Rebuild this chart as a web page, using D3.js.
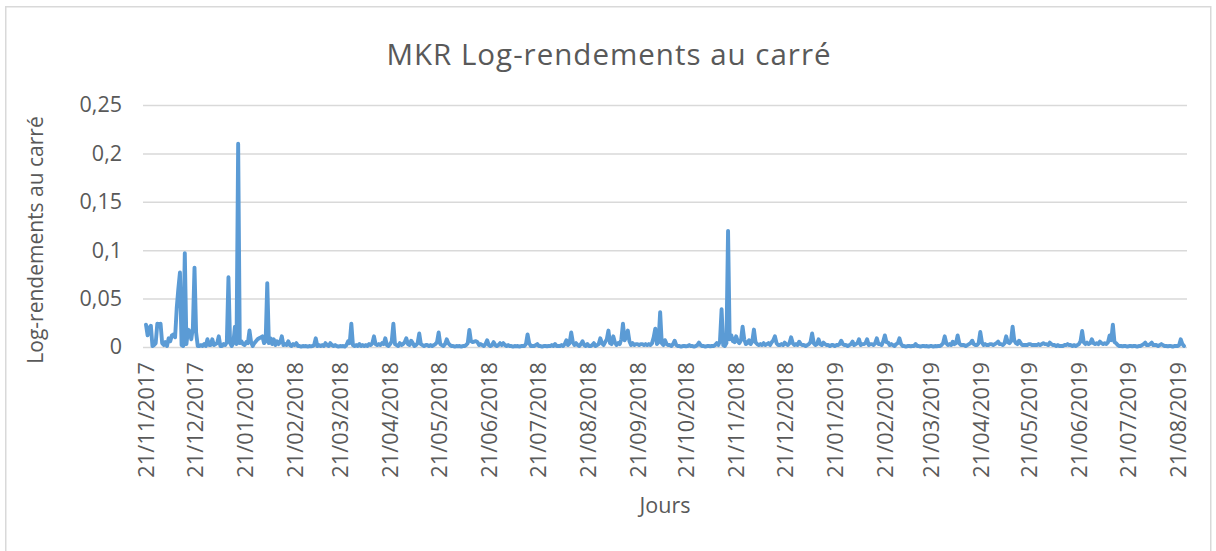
<!DOCTYPE html>
<html>
<head>
<meta charset="utf-8">
<script src="https://cdn.jsdelivr.net/npm/d3@7/dist/d3.min.js"></script>
<style>
  html, body { margin: 0; padding: 0; background: #fff; }
  svg { display: block; }
  text { font-family: "Open Sans", sans-serif; fill: #595959; }
</style>
</head>
<body>
<svg id="chart" width="1216" height="551"></svg>
<script>
// ---- Data -------------------------------------------------------------
const title = "MKR Log-rendements au carré";
const xTitle = "Jours";
const yTitle = "Log-rendements au carré";
const startDate = "21/11/2017";   // first observation, one value per day
const endDate = "25/08/2019";
const xTickLabels = ["21/11/2017","21/12/2017","21/01/2018","21/02/2018","21/03/2018","21/04/2018",
  "21/05/2018","21/06/2018","21/07/2018","21/08/2018","21/09/2018","21/10/2018","21/11/2018",
  "21/12/2018","21/01/2019","21/02/2019","21/03/2019","21/04/2019","21/05/2019","21/06/2019",
  "21/07/2019","21/08/2019"];
const yTickValues = [0, 0.05, 0.1, 0.15, 0.2, 0.25];
const yTickLabels = ["0", "0,05", "0,1", "0,15", "0,2", "0,25"];
// squared log-returns, daily, from 21/11/2017
const values = [
  0.023,0.012,0.020,0.022,0.001,0.002,0.004,0.024,0.023,0.024,
  0.004,0.002,0.005,0.001,0.009,0.006,0.012,0.013,0.010,0.040,
  0.060,0.077,0.002,0.001,0.097,0.003,0.018,0.016,0.008,0.020,
  0.082,0.015,0.001,0.001,0.002,0.001,0.003,0.001,0.008,0.002,
  0.002,0.008,0.002,0.003,0.004,0.011,0.001,0.001,0.003,0.002,
  0.005,0.072,0.004,0.001,0.004,0.021,0.003,0.210,0.004,0.006,
  0.003,0.002,0.005,0.004,0.017,0.005,0.001,0.004,0.006,0.008,
  0.009,0.010,0.011,0.004,0.006,0.066,0.004,0.009,0.003,0.008,
  0.002,0.006,0.003,0.005,0.011,0.002,0.003,0.002,0.006,0.002,
  0.001,0.003,0.002,0.004,0.001,0.001,0.0005,0.001,0.0008,0.001,
  0.0005,0.001,0.0007,0.001,0.002,0.009,0.001,0.002,0.001,0.002,
  0.001,0.004,0.002,0.001,0.004,0.002,0.001,0.002,0.001,0.0005,
  0.001,0.0008,0.001,0.0005,0.002,0.006,0.004,0.024,0.002,0.001,
  0.002,0.001,0.003,0.001,0.002,0.001,0.002,0.001,0.003,0.002,
  0.004,0.011,0.003,0.002,0.003,0.002,0.004,0.003,0.009,0.002,
  0.001,0.003,0.006,0.024,0.003,0.002,0.001,0.004,0.002,0.003,
  0.005,0.009,0.003,0.002,0.0065,0.004,0.001,0.002,0.004,0.014,
  0.003,0.002,0.001,0.002,0.002,0.001,0.002,0.001,0.002,0.003,
  0.005,0.015,0.003,0.002,0.001,0.003,0.008,0.004,0.002,0.001,
  0.001,0.0005,0.001,0.0008,0.001,0.0005,0.001,0.001,0.002,0.004,
  0.0175,0.006,0.005,0.0055,0.006,0.005,0.002,0.003,0.002,0.001,
  0.003,0.007,0.002,0.001,0.002,0.005,0.002,0.001,0.002,0.004,
  0.002,0.004,0.002,0.001,0.002,0.001,0.001,0.0005,0.001,0.0008,
  0.001,0.0005,0.001,0.001,0.001,0.003,0.013,0.004,0.001,0.001,
  0.001,0.002,0.003,0.001,0.001,0.0005,0.001,0.001,0.0008,0.001,
  0.001,0.002,0.001,0.003,0.001,0.001,0.001,0.002,0.001,0.003,
  0.007,0.002,0.004,0.015,0.005,0.002,0.004,0.002,0.001,0.003,
  0.006,0.002,0.001,0.003,0.001,0.001,0.002,0.004,0.001,0.002,
  0.003,0.009,0.004,0.002,0.005,0.008,0.017,0.004,0.003,0.011,
  0.005,0.002,0.004,0.003,0.008,0.024,0.007,0.010,0.017,0.006,
  0.002,0.004,0.002,0.003,0.003,0.002,0.003,0.003,0.002,0.003,
  0.002,0.003,0.002,0.004,0.010,0.019,0.003,0.005,0.036,0.004,
  0.002,0.007,0.003,0.002,0.002,0.001,0.003,0.0065,0.002,0.001,
  0.001,0.0005,0.001,0.001,0.0008,0.001,0.002,0.001,0.001,0.0005,
  0.001,0.002,0.0045,0.002,0.001,0.001,0.0005,0.001,0.001,0.0008,
  0.001,0.001,0.002,0.004,0.002,0.006,0.039,0.002,0.001,0.004,
  0.120,0.008,0.012,0.006,0.005,0.011,0.006,0.004,0.007,0.021,
  0.008,0.003,0.004,0.007,0.003,0.006,0.018,0.005,0.003,0.002,
  0.003,0.002,0.004,0.002,0.003,0.004,0.002,0.005,0.007,0.011,
  0.004,0.002,0.002,0.003,0.002,0.0045,0.003,0.002,0.004,0.010,
  0.004,0.002,0.003,0.002,0.0055,0.003,0.002,0.002,0.001,0.002,
  0.003,0.005,0.014,0.004,0.002,0.003,0.008,0.003,0.002,0.0045,
  0.003,0.002,0.002,0.001,0.002,0.002,0.001,0.002,0.002,0.003,
  0.0065,0.003,0.002,0.002,0.001,0.002,0.003,0.0055,0.002,0.003,
  0.004,0.008,0.002,0.003,0.003,0.004,0.008,0.002,0.003,0.003,
  0.002,0.004,0.009,0.003,0.003,0.002,0.006,0.012,0.005,0.0045,
  0.002,0.003,0.002,0.001,0.003,0.004,0.009,0.003,0.001,0.001,
  0.0005,0.001,0.001,0.0008,0.001,0.001,0.003,0.001,0.001,0.0005,
  0.001,0.001,0.0008,0.001,0.0005,0.001,0.001,0.0005,0.001,0.0008,
  0.001,0.001,0.002,0.004,0.011,0.004,0.002,0.003,0.002,0.0055,
  0.003,0.004,0.012,0.004,0.002,0.002,0.002,0.001,0.002,0.003,
  0.004,0.0065,0.003,0.002,0.002,0.004,0.0155,0.005,0.002,0.003,
  0.002,0.002,0.003,0.003,0.002,0.003,0.004,0.0055,0.003,0.003,
  0.002,0.004,0.011,0.005,0.004,0.006,0.021,0.007,0.004,0.003,
  0.0065,0.004,0.002,0.002,0.002,0.002,0.003,0.003,0.002,0.002,
  0.002,0.002,0.003,0.002,0.003,0.004,0.003,0.003,0.002,0.0045,
  0.003,0.002,0.002,0.001,0.002,0.001,0.001,0.001,0.002,0.002,
  0.003,0.002,0.002,0.001,0.002,0.001,0.002,0.003,0.006,0.0165,
  0.005,0.003,0.0045,0.003,0.004,0.008,0.004,0.003,0.004,0.003,
  0.0055,0.004,0.003,0.004,0.003,0.005,0.012,0.007,0.023,0.005,
  0.004,0.002,0.001,0.001,0.0008,0.001,0.001,0.0005,0.001,0.001,
  0.0008,0.001,0.001,0.0005,0.001,0.001,0.002,0.003,0.0045,0.002,
  0.002,0.003,0.0045,0.002,0.002,0.002,0.001,0.002,0.003,0.002,
  0.001,0.001,0.0008,0.001,0.001,0.0005,0.001,0.001,0.001,0.002,
  0.008,0.003,0.001
];

// ---- Chart -------------------------------------------------------------
const parse = d3.utcParse("%d/%m/%Y");
const t0 = parse(startDate);
const dates = values.map((v, i) => d3.utcDay.offset(t0, i));
const series = values.map((v, i) => ({ date: dates[i], value: v }));

const svg = d3.select("#chart");
const W = 1216, H = 551;
const plot = { left: 143, right: 1187, top: 105, bottom: 347 };

svg.append("rect").attr("width", W).attr("height", H).attr("fill", "#fff");
svg.append("rect")
  .attr("x", 5.75).attr("y", 6.75).attr("width", 1205).attr("height", 560)
  .attr("fill", "none").attr("stroke", "#d9d9d9").attr("stroke-width", 1.5);

const x = d3.scaleUtc()
  .domain([t0, parse(endDate)])
  .range([146, 1184]);
const y = d3.scaleLinear().domain([0, 0.25]).range([plot.bottom, plot.top]);

// gridlines + y labels
const yAxis = d3.axisLeft(y)
  .tickValues(yTickValues)
  .tickFormat((d, i) => yTickLabels[i])
  .tickSize(-(plot.right - plot.left))
  .tickPadding(21);
const gy = svg.append("g").attr("transform", `translate(${plot.left},0)`).call(yAxis);
gy.select(".domain").remove();
gy.selectAll(".tick line").attr("stroke", "#d9d9d9").attr("stroke-width", 1.5);
gy.selectAll(".tick text")
  .style("font-family", '"Open Sans", sans-serif')
  .style("font-size", "21.5px").attr("fill", "#595959");

// x axis labels
const xAxis = d3.axisBottom(x)
  .tickValues(xTickLabels.map(parse))
  .tickFormat(d3.utcFormat("%d/%m/%Y"))
  .tickSize(0);
const gx = svg.append("g").attr("transform", `translate(0,${plot.bottom})`).call(xAxis);
gx.select(".domain").remove();
gx.selectAll(".tick text")
  .style("font-family", '"Open Sans", sans-serif')
  .style("font-size", "21.8px").attr("fill", "#595959")
  .attr("text-anchor", "end")
  .attr("transform", "rotate(-90)")
  .attr("x", -15).attr("y", 0).attr("dy", "0.36em");

// line
const line = d3.line().x(d => x(d.date)).y(d => y(d.value));
svg.append("path").datum(series)
  .attr("d", line)
  .attr("fill", "none")
  .attr("stroke", "#5b9bd5")
  .attr("stroke-width", 3.9)
  .attr("stroke-linejoin", "round")
  .attr("stroke-linecap", "round");

// titles
svg.append("text").attr("x", 609).attr("y", 65)
  .attr("text-anchor", "middle")
  .style("font-size", "29.5px").style("letter-spacing", "1px")
  .text(title);
svg.append("text").attr("x", 665).attr("y", 513)
  .attr("text-anchor", "middle")
  .style("font-size", "21.5px")
  .text(xTitle);
svg.append("text")
  .attr("transform", "translate(43,240) rotate(-90)")
  .attr("text-anchor", "middle")
  .style("font-size", "21px")
  .text(yTitle);
</script>
</body>
</html>
